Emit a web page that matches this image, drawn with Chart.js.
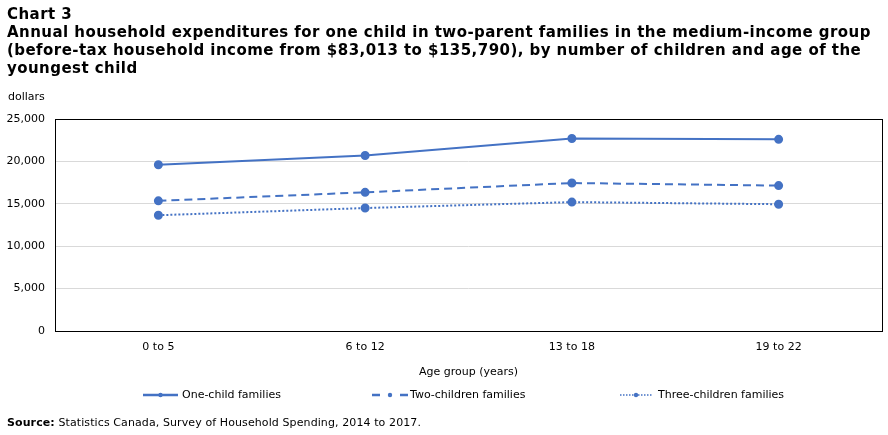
<!DOCTYPE html>
<html>
<head>
<meta charset="utf-8">
<script src="https://cdn.jsdelivr.net/npm/chart.js@4.4.0/dist/chart.umd.min.js"></script>
<style>
  html, body { margin: 0; padding: 0; background: #fff; }
  #wrap { position: relative; width: 888px; height: 435px; font-family: "DejaVu Sans", Verdana, sans-serif; color: #000; }
  #title { position: absolute; left: 7px; top: 5px; font-weight: bold; font-size: 15px; letter-spacing: 0.45px; line-height: 18px; white-space: nowrap; }
  #unit { position: absolute; left: 8px; top: 90px; font-size: 11px; }
  #source { position: absolute; left: 7px; top: 416px; font-size: 11px; letter-spacing: 0.1px; white-space: nowrap; }
  canvas { position: absolute; left: 0; top: 0; }
</style>
</head>
<body>
<div id="wrap">
  <canvas id="chart" width="888" height="435"></canvas>
  <div id="title">Chart 3<br>Annual household expenditures for one child in two-parent families in the medium-income group<br>(before-tax household income from $83,013 to $135,790), by number of children and age of the<br>youngest child</div>
  <div id="unit">dollars</div>
  <div id="source"><b>Source:</b> Statistics Canada, Survey of Household Spending, 2014 to 2017.</div>
</div>
<script>
  // data
  const ageGroups = ['0 to 5', '6 to 12', '13 to 18', '19 to 22'];
  const oneChild = [19600, 20700, 22700, 22600];
  const twoChildren = [15350, 16350, 17450, 17150];
  const threeChildren = [13650, 14500, 15200, 14950];
  const yTicks = [0, 5000, 10000, 15000, 20000, 25000];

  const BLUE = '#4472C4';
  const FONT = '"DejaVu Sans", Verdana, sans-serif';

  // black frame round the plot area
  const frame = {
    id: 'frame',
    beforeDatasetsDraw(chart) {
      const { ctx, chartArea: a } = chart;
      ctx.save();
      ctx.strokeStyle = '#000';
      ctx.lineWidth = 1;
      ctx.strokeRect(Math.round(a.left) + 0.5, Math.round(a.top) + 0.5,
        Math.round(a.right - a.left), Math.round(a.bottom - a.top));
      ctx.restore();
    },
  };

  // line-with-marker legend like the original
  const lineLegend = {
    id: 'lineLegend',
    afterDraw(chart, args, opts) {
      const ctx = chart.ctx;
      chart.data.datasets.forEach((ds, i) => {
        const x = opts.starts[i], y = opts.y, len = opts.lens[i];
        ctx.save();
        ctx.strokeStyle = ds.borderColor;
        ctx.lineWidth = ds.legendWidth;
        ctx.setLineDash(ds.legendDash || []);
        ctx.beginPath();
        ctx.moveTo(x, y);
        ctx.lineTo(x + len, y);
        ctx.stroke();
        ctx.setLineDash([]);
        ctx.fillStyle = ds.pointBackgroundColor;
        ctx.beginPath();
        ctx.arc(x + len / 2, y, 2.2, 0, Math.PI * 2);
        ctx.fill();
        ctx.fillStyle = '#000';
        ctx.font = '11px ' + FONT;
        ctx.textBaseline = 'middle';
        ctx.fillText(ds.label, opts.textX[i], y);
        ctx.restore();
      });
    },
  };

  const series = (label, data, dash, legendDash, legendWidth) => ({
    label,
    data,
    borderColor: BLUE,
    backgroundColor: BLUE,
    pointBackgroundColor: BLUE,
    pointBorderColor: BLUE,
    borderWidth: 2,
    borderDash: dash,
    legendDash,
    legendWidth,
    pointRadius: 3.5,
    pointHoverRadius: 3.5,
    tension: 0,
  });

  new Chart(document.getElementById('chart'), {
    type: 'line',
    data: {
      labels: ageGroups,
      datasets: [
        series('One-child families', oneChild, [], [], 2.5),
        series('Two-children families', twoChildren, [8, 5], [8, 20], 2.5),
        series('Three-children families', threeChildren, [2, 2], [1.5, 1.5], 1.5),
      ],
    },
    plugins: [frame, lineLegend],
    options: {
      responsive: false,
      animation: false,
      layout: { padding: { top: 119, right: 6, left: 0, bottom: 0 } },
      plugins: {
        legend: { display: false },
        tooltip: { enabled: false },
        lineLegend: { starts: [143, 372, 620], lens: [35, 36, 32], textX: [182, 410, 658], y: 395 },
      },
      scales: {
        x: {
          offset: true,
          grid: { display: false, drawTicks: false },
          border: { display: false },
          ticks: { color: '#000', font: { family: FONT, size: 11 }, padding: 10, maxRotation: 0 },
          title: {
            display: true,
            text: 'Age group (years)',
            color: '#000',
            font: { family: FONT, size: 11 },
            padding: { top: 0, bottom: 56 },
          },
          afterFit(scale) { scale.height = 104; },
        },
        y: {
          min: 0,
          max: 25000,
          afterBuildTicks(scale) { scale.ticks = yTicks.map((v) => ({ value: v })); },
          grid: { color: '#d9d9d9', drawTicks: false },
          border: { display: false },
          ticks: {
            color: '#000',
            font: { family: FONT, size: 11 },
            padding: 10,
            callback: (v) => v.toLocaleString('en-US'),
          },
          afterFit(scale) { scale.width = 55; },
        },
      },
    },
  });
</script>
</body>
</html>
